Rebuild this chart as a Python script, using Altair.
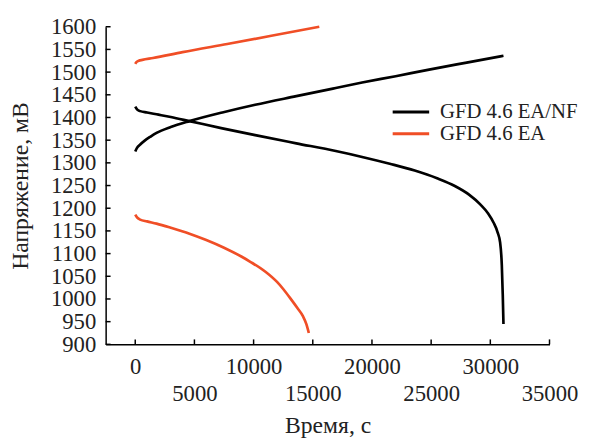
import altair as alt
import pandas as pd

# Sample names (legend order)
series_names = ["GFD 4.6 EA/NF", "GFD 4.6 EA"]
series_colors = ["#000000", "#f04e26"]

# GFD 4.6 EA/NF - charge (rising) curve
nf_charge_t = [0, 150, 400, 800, 1300, 1800, 3000, 4583, 7360, 10135, 13610, 16940, 19170, 22000, 24720, 28000, 31110]
nf_charge_v = [1325, 1333, 1340, 1349, 1358, 1366, 1379, 1392, 1411, 1428, 1447, 1465, 1477, 1491, 1505, 1521, 1536]

# GFD 4.6 EA/NF - discharge (falling) curve
nf_dis_t = [0, 150, 417, 1000, 1800, 3000, 4583, 7360, 10135, 13610, 16940, 19170, 21500, 23610, 25500, 27000,
            28200, 29170, 29800, 30280, 30600, 30830, 30970, 31050, 31110]
nf_dis_v = [1424, 1418, 1414, 1411, 1407, 1401, 1392, 1376, 1361, 1343, 1326, 1313, 1298, 1283, 1266, 1249,
            1230, 1208, 1189, 1168, 1148, 1124, 1075, 1010, 945]

# GFD 4.6 EA - charge (rising) curve
ea_charge_t = [0, 100, 300, 600, 1500, 4000, 7775, 11500, 15550]
ea_charge_v = [1518, 1522, 1525, 1527, 1531, 1544, 1562, 1580, 1600]

# GFD 4.6 EA - discharge (falling) curve
ea_dis_t = [0, 150, 417, 1000, 1800, 3000, 4583, 6000, 7500, 9000, 9720, 11000, 12000, 12500, 13200, 13700,
            14167, 14450, 14667]
ea_dis_v = [1186, 1180, 1175, 1171, 1166, 1157, 1144, 1130, 1113, 1093, 1082, 1060, 1037, 1022, 998, 980,
            962, 945, 925]

x_ticks = [0, 5000, 10000, 15000, 20000, 25000, 30000, 35000]
y_ticks = list(range(900, 1601, 50))

rows = []
for name, curve, ts, vs in [
    (series_names[0], "nf_charge", nf_charge_t, nf_charge_v),
    (series_names[0], "nf_dis", nf_dis_t, nf_dis_v),
    (series_names[1], "ea_charge", ea_charge_t, ea_charge_v),
    (series_names[1], "ea_dis", ea_dis_t, ea_dis_v),
]:
    for i, (t, v) in enumerate(zip(ts, vs)):
        rows.append({"t": t, "v": v, "series": name, "curve": curve, "i": i})
df = pd.DataFrame(rows)
xt_df = pd.DataFrame({"t": x_ticks})
yt_df = pd.DataFrame({"v": y_ticks})

FONT = "Liberation Serif"
W, H = 450, 322
TICK = 5
xscale = alt.Scale(domain=[-2500, 35000], nice=False, zero=False)
yscale = alt.Scale(domain=[900, 1600], nice=False, zero=False)

x_axis = alt.Axis(title="Время, с", values=x_ticks, format="d", orient="bottom",
                  labelExpr="datum.value % 10000 == 0 ? datum.label : ['', datum.label]",
                  labelLineHeight=27, labelOverlap=False, labelFlush=False,
                  labelPadding=12, titlePadding=8, ticks=False, grid=False)
y_axis = alt.Axis(title="Напряжение, мВ", values=y_ticks, format="d", orient="left",
                  labelOverlap=False, labelFlush=False, labelPadding=10,
                  titlePadding=18, ticks=False, grid=False)

lines = alt.Chart(df).mark_line(strokeWidth=2.7, interpolate="monotone").encode(
    x=alt.X("t:Q", scale=xscale, axis=x_axis),
    y=alt.Y("v:Q", scale=yscale, axis=y_axis),
    color=alt.Color("series:N",
                    scale=alt.Scale(domain=series_names, range=series_colors),
                    legend=alt.Legend(title=None, orient="none", legendX=299, legendY=76,
                                      symbolType="M-2.5,0H2.5", symbolSize=219, symbolStrokeWidth=3,
                                      labelFontSize=21, labelFont=FONT, labelColor="#222222",
                                      labelOffset=19, rowPadding=0, padding=0, labelLimit=300)),
    detail="curve:N",
    order="i:Q",
)

# inward-pointing tick marks on the x axis
x_tick_marks = alt.Chart(xt_df).mark_rule(color="#000000", strokeWidth=1.5).encode(
    x=alt.X("t:Q", scale=xscale, axis=x_axis),
    y=alt.value(H - TICK),
    y2=alt.value(H),
)

# inward-pointing tick marks on the y axis
y_tick_marks = alt.Chart(yt_df).mark_rule(color="#000000", strokeWidth=1.5).encode(
    y=alt.Y("v:Q", scale=yscale, axis=y_axis),
    x=alt.value(0),
    x2=alt.value(TICK),
)

chart = alt.layer(lines, x_tick_marks, y_tick_marks).properties(
    width=W, height=H,
    autosize=alt.AutoSizeParams(type="none"),
    padding={"left": 99, "top": 16, "right": 37, "bottom": 95},
).configure_view(stroke=None).configure_axis(
    labelFont=FONT, titleFont=FONT, labelFontSize=23, titleFontSize=24,
    labelColor="#222222", titleColor="#222222", titleFontWeight="normal",
    domainColor="#000000", domainWidth=1.5,
)

chart.save("out.html", embed_options={"renderer": "svg", "actions": False})
